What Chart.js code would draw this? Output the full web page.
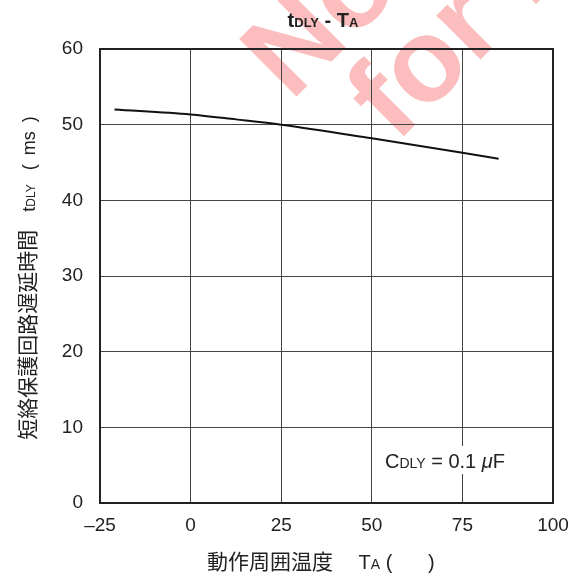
<!DOCTYPE html>
<html>
<head>
<meta charset="utf-8">
<script src="https://cdn.jsdelivr.net/npm/chart.js@4"></script>
<style>
  html, body { margin: 0; padding: 0; background: #fff; }
  #wrap { width: 573px; height: 576px; }
</style>
</head>
<body>
<div id="wrap"><canvas id="chart" width="573" height="576"></canvas></div>
<script>
// ================================
// DATA
// ================================
const temps = [-21, 0, 12.5, 25, 50, 75, 85];             // TA (°C)
const delays = [52.0, 51.35, 50.7, 50.0, 48.2, 46.3, 45.5]; // tDLY (ms)
const xTicks = [-25, 0, 25, 50, 75, 100];
const yTicks = [0, 10, 20, 30, 40, 50, 60];

const FONT = '"Liberation Sans", Arial, sans-serif';
const CJK = '"Noto Sans CJK JP", "Noto Sans CJK SC", sans-serif';
const INK = '#222';

// ================================
// HELPERS
// ================================
// draw a row of text pieces with different fonts on one baseline
function drawRuns(ctx, runs, x, y, align) {
    let total = 0;
    runs.forEach(r => { ctx.font = r.font; total += ctx.measureText(r.text).width; });
    let cx = align === 'center' ? x - total / 2 : x;
    runs.forEach(r => {
        ctx.font = r.font;
        ctx.fillText(r.text, cx, y);
        cx += ctx.measureText(r.text).width;
    });
    return total;
}

// ================================
// PLUGINS
// ================================
const backdrop = {
    id: 'backdrop',
    beforeDraw(chart) {
        const ctx = chart.ctx;
        ctx.save();
        ctx.fillStyle = '#fff';
        ctx.fillRect(0, 0, chart.width, chart.height);
        // watermark
        ctx.fillStyle = '#fbbdbd';
        ctx.font = 'bold 118px ' + FONT;
        ctx.textBaseline = 'alphabetic';
        ctx.save();
        ctx.translate(291, 102);
        ctx.rotate(-Math.PI / 4);
        ctx.fillText('Not Recommended', 0, 0);
        ctx.restore();
        ctx.save();
        ctx.translate(396, 144);
        ctx.rotate(-Math.PI / 4);
        ctx.fillText('for New Design', 0, 0);
        ctx.restore();
        ctx.restore();
    }
};

const decorations = {
    id: 'decorations',
    afterDraw(chart) {
        const ctx = chart.ctx;
        const a = chart.chartArea;
        ctx.save();

        // frame
        ctx.strokeStyle = INK;
        ctx.lineWidth = 2;
        ctx.strokeRect(a.left, a.top, a.right - a.left, a.bottom - a.top);

        ctx.fillStyle = INK;
        ctx.textBaseline = 'alphabetic';

        // title
        drawRuns(ctx, [
            { text: 't', font: 'bold 20px ' + FONT },
            { text: 'DLY', font: 'bold 13px ' + FONT },
            { text: ' - ', font: 'bold 20px ' + FONT },
            { text: 'T', font: 'bold 20px ' + FONT },
            { text: 'A', font: 'bold 13px ' + FONT }
        ], 323, 27, 'center');

        // x axis title
        drawRuns(ctx, [
            { text: '動作周囲温度', font: '21px ' + CJK },
            { text: '\u3000 T', font: '20px ' + FONT },
            { text: 'A', font: '14px ' + FONT },
            { text: ' (\u3000\u2002 )', font: '20px ' + FONT }
        ], 207, 569, 'left');

        // y axis title
        ctx.save();
        ctx.translate(35, 278);
        ctx.rotate(-Math.PI / 2);
        drawRuns(ctx, [
            { text: '短絡保護回路遅延時間', font: '21px ' + CJK },
            { text: '\u3000t', font: '18px ' + FONT },
            { text: 'DLY', font: '12px ' + FONT },
            { text: ' \u2002(\u2002ms\u2002)', font: '18px ' + FONT }
        ], 0, 0, 'center');
        ctx.restore();

        // condition label with white backing
        ctx.fillStyle = '#fff';
        ctx.fillRect(381, 446, 130, 28);
        ctx.fillStyle = INK;
        drawRuns(ctx, [
            { text: 'C', font: '20px ' + FONT },
            { text: 'DLY', font: '14px ' + FONT },
            { text: ' = 0.1 ', font: '20px ' + FONT },
            { text: 'μ', font: 'italic 20px ' + FONT },
            { text: 'F', font: '20px ' + FONT }
        ], 385, 468, 'left');

        ctx.restore();
    }
};

// ================================
// CHART
// ================================
new Chart(document.getElementById('chart'), {
    type: 'line',
    data: {
        datasets: [{
            data: temps.map((t, i) => ({ x: t, y: delays[i] })),
            borderColor: '#111',
            borderWidth: 2,
            pointRadius: 0,
            cubicInterpolationMode: 'monotone',
            fill: false
        }]
    },
    options: {
        responsive: false,
        animation: false,
        events: [],
        layout: { padding: { top: 49, right: 20, left: 0, bottom: 0 } },
        plugins: {
            legend: { display: false },
            tooltip: { enabled: false },
            title: { display: false }
        },
        scales: {
            x: {
                type: 'linear',
                min: -25,
                max: 100,
                afterFit: s => { s.height = 73; s.paddingLeft = 0; s.paddingRight = 0; },
                afterBuildTicks: s => { s.ticks = xTicks.map(v => ({ value: v })); },
                ticks: {
                    color: INK,
                    font: { family: FONT, size: 19 },
                    padding: 11,
                    maxRotation: 0,
                    callback: v => v < 0 ? '\u2013' + Math.abs(v) : String(v)
                },
                grid: { color: '#444', lineWidth: 1, drawTicks: false },
                border: { color: INK, width: 2 }
            },
            y: {
                min: 0,
                max: 60,
                afterFit: s => { s.width = 100; s.paddingTop = 0; s.paddingBottom = 0; },
                afterBuildTicks: s => { s.ticks = yTicks.map(v => ({ value: v })); },
                ticks: {
                    color: INK,
                    font: { family: FONT, size: 19 },
                    padding: 17
                },
                grid: { color: '#444', lineWidth: 1, drawTicks: false },
                border: { color: INK, width: 2 }
            }
        }
    },
    plugins: [backdrop, decorations]
});
</script>
</body>
</html>
